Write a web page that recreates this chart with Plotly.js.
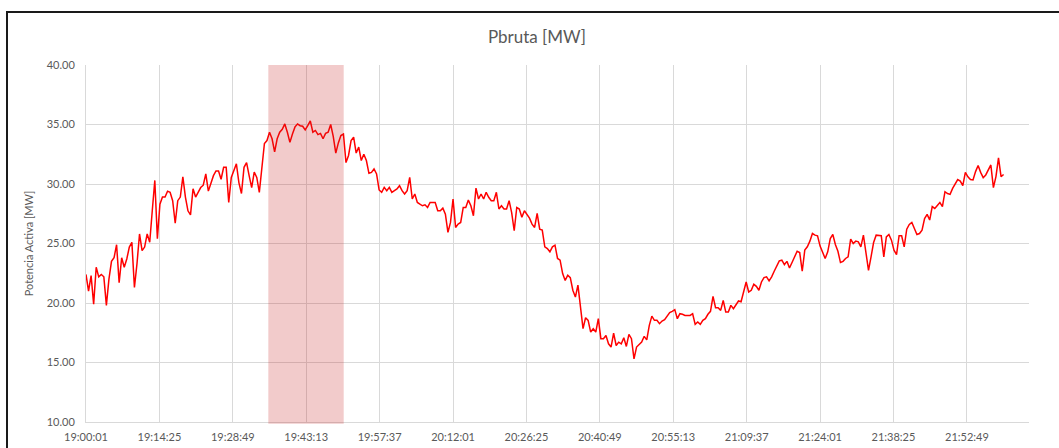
<!DOCTYPE html>
<html>
<head>
<meta charset="utf-8">
<script src="https://cdn.plot.ly/plotly-3.0.1.min.js"></script>
<style>
  body { margin: 0; background: #ffffff; overflow: hidden; }
  #frame { position: absolute; left: 6px; top: 11px; width: 2000px; height: 2000px;
           border-top: 2px solid #1a1a1a; border-left: 2px solid #1a1a1a; }
  #chart { position: absolute; left: 0; top: 0; width: 1059px; height: 448px; }
</style>
</head>
<body>
<div id="frame"></div>
<div id="chart"></div>
<script>
// one reading every 30 s, starting 19:00:01
var dia = '2024-01-01 ';
var inicio = '19:00:01';
var paso = 30;

var pbruta = [
  22.4, 21.0, 22.3, 19.9, 23.0, 22.2, 22.4, 22.2, 19.8, 22.0,
  23.5, 23.8, 24.9, 21.7, 23.8, 23.0, 23.7, 24.7, 25.1, 21.3,
  23.3, 25.8, 24.4, 24.7, 25.8, 25.1, 27.75, 30.3, 25.4, 28.3,
  28.9, 28.9, 29.4, 29.3, 28.6, 26.7, 28.6, 28.9, 30.6, 28.9,
  27.75, 27.4, 29.6, 28.9, 29.3, 29.7, 29.9, 30.85, 29.4, 30.1,
  30.7, 31.1, 31.1, 30.4, 31.4, 31.4, 28.45, 30.55, 31.1, 31.7,
  30.1, 29.2, 31.4, 31.8, 30.7, 29.7, 31.0, 30.55, 29.3, 31.1,
  33.4, 33.65, 34.35, 33.8, 32.7, 33.8, 34.35, 34.6, 35.05, 34.35,
  33.5, 34.2, 34.8, 35.05, 34.9, 34.85, 34.55, 34.9, 35.3, 34.35,
  34.5, 34.15, 34.25, 33.8, 34.25, 34.35, 35.0, 34.0, 32.6, 33.45,
  34.07, 34.2, 31.8, 32.4, 33.65, 33.93, 32.6, 33.1, 31.97, 32.5,
  31.97, 30.9, 30.98, 31.26, 30.84, 29.5, 29.3, 29.72, 29.44, 29.72,
  29.3, 29.44, 29.58, 29.86, 29.44, 29.16, 29.44, 30.56, 28.74, 29.16,
  28.45, 28.3, 28.17, 28.25, 28.03, 28.45, 28.45, 28.45, 27.75, 27.75,
  27.97, 27.47, 25.93, 26.77, 28.74, 26.35, 26.63, 26.77, 28.03, 28.03,
  28.65, 28.17, 27.33, 29.66, 28.74, 29.16, 28.74, 29.3, 28.88, 28.6,
  28.6, 29.3, 27.9, 28.17, 27.9, 27.9, 28.6, 27.6, 26.07, 28.03,
  27.9, 27.2, 27.75, 27.47, 27.13, 26.63, 26.35, 27.53, 26.2, 26.12,
  24.72, 24.58, 24.3, 24.72, 24.86, 23.74, 23.6, 22.47, 21.9, 22.33,
  22.13, 21.07, 20.5, 21.5, 19.66, 17.84, 18.76, 18.54, 17.56, 17.84,
  17.56, 18.68, 17.0, 17.0, 17.27, 16.57, 16.3, 17.47, 16.43, 16.71,
  16.57, 17.08, 16.35, 17.36, 17.0, 15.3, 16.3, 16.5, 16.71, 17.2,
  16.9, 18.12, 18.9, 18.54, 18.54, 18.26, 18.48, 18.6, 18.9, 19.2,
  19.3, 19.44, 18.68, 19.1, 19.05, 18.96, 18.96, 18.96, 19.1, 18.2,
  18.4, 18.2, 18.54, 18.68, 19.05, 19.3, 20.56, 19.6, 19.6, 19.38,
  20.22, 19.24, 19.24, 19.8, 19.52, 19.8, 20.17, 20.1, 21.0, 21.77,
  20.93, 21.07, 21.57, 21.4, 21.07, 21.77, 22.13, 22.2, 21.86, 22.2,
  22.67, 23.17, 23.54, 23.6, 23.23, 23.5, 22.95, 23.4, 23.88, 24.35,
  24.24, 22.67, 24.44, 24.72, 25.2, 25.84, 25.7, 25.65, 24.78, 24.3,
  23.74, 24.3, 25.42, 25.76, 24.92, 24.35, 23.4, 23.5, 23.74, 23.88,
  25.36, 25.0, 25.2, 25.14, 24.72, 25.7, 24.3, 22.75, 23.88, 25.08,
  25.7, 25.65, 25.65, 23.88, 25.56, 25.76, 25.28, 24.44, 24.07, 25.65,
  25.65, 24.72, 26.2, 26.6, 26.77, 26.26, 25.76, 25.84, 26.12, 27.1,
  27.45, 26.97, 28.1, 27.95, 28.23, 28.45, 28.1, 29.35, 29.2, 29.13,
  29.63, 29.97, 30.37, 30.25, 29.86, 30.98, 30.6, 30.37, 30.34, 31.04,
  31.55, 30.98, 30.53, 30.76, 31.18, 31.6, 29.7, 30.62, 32.2, 30.62,
  30.8
];

var etiquetas = ['19:00:01', '19:14:25', '19:28:49', '19:43:13', '19:57:37', '20:12:01', '20:26:25',
                 '20:40:49', '20:55:13', '21:09:37', '21:24:01', '21:38:25', '21:52:49'];
var fin_eje = '22:05:00';

// zona sombreada
var zona = ['19:35:47', '19:50:34'];

var pad = function(n){ return (n < 10 ? '0' : '') + n; };
var horas = [];
var p = inicio.split(':');
var s0 = (+p[0]) * 3600 + (+p[1]) * 60 + (+p[2]);
for (var i = 0; i < pbruta.length; i++) {
  var s = s0 + i * paso;
  horas.push(dia + pad(Math.floor(s / 3600)) + ':' + pad(Math.floor(s / 60) % 60) + ':' + pad(s % 60));
}

var gris = '#595959';
var fuente = 'Lato, "Open Sans", sans-serif';

var trace1 = {
  x: horas,
  y: pbruta,
  type: 'scatter',
  mode: 'lines',
  name: 'Pbruta',
  line: { color: '#ff0000', width: 1.5 },
  hoverinfo: 'x+y'
};

var layout = {
  width: 1059,
  height: 448,
  showlegend: false,
  paper_bgcolor: 'rgba(0,0,0,0)',
  plot_bgcolor: 'rgba(0,0,0,0)',
  margin: { l: 86, r: 30, t: 65, b: 26 },
  title: {
    text: 'Pbruta [MW]',
    font: { family: fuente, size: 17, color: gris },
    x: 0.507, xanchor: 'center',
    y: 0.917, yanchor: 'middle'
  },
  xaxis: {
    type: 'date',
    range: [dia + etiquetas[0], dia + fin_eje],
    tickvals: etiquetas.map(function(t){ return dia + t; }),
    ticktext: etiquetas,
    ticks: 'outside',
    ticklen: 5,
    tickcolor: 'rgba(0,0,0,0)',
    tickfont: { family: fuente, size: 11, color: gris },
    showgrid: true,
    gridcolor: '#d9d9d9',
    gridwidth: 1,
    showline: true,
    linecolor: '#d9d9d9',
    zeroline: false
  },
  yaxis: {
    range: [10, 40],
    dtick: 5,
    tickformat: '.2f',
    ticks: 'outside',
    ticklen: 8,
    tickcolor: 'rgba(0,0,0,0)',
    tickfont: { family: fuente, size: 11, color: gris },
    showgrid: true,
    gridcolor: '#d9d9d9',
    gridwidth: 1,
    showline: true,
    linecolor: '#d9d9d9',
    zeroline: false,
    title: {
      text: 'Potencia Activa [MW]',
      font: { family: fuente, size: 11, color: gris },
      standoff: 10
    }
  },
  shapes: [{
    type: 'rect',
    xref: 'x',
    yref: 'paper',
    x0: dia + zona[0],
    x1: dia + zona[1],
    y0: -0.005,
    y1: 1,
    fillcolor: 'rgba(200,30,30,0.23)',
    line: { width: 0 },
    layer: 'above'
  }]
};

var data = [trace1];
Plotly.newPlot('chart', data, layout, { displayModeBar: false, staticPlot: true });
</script>
</body>
</html>
